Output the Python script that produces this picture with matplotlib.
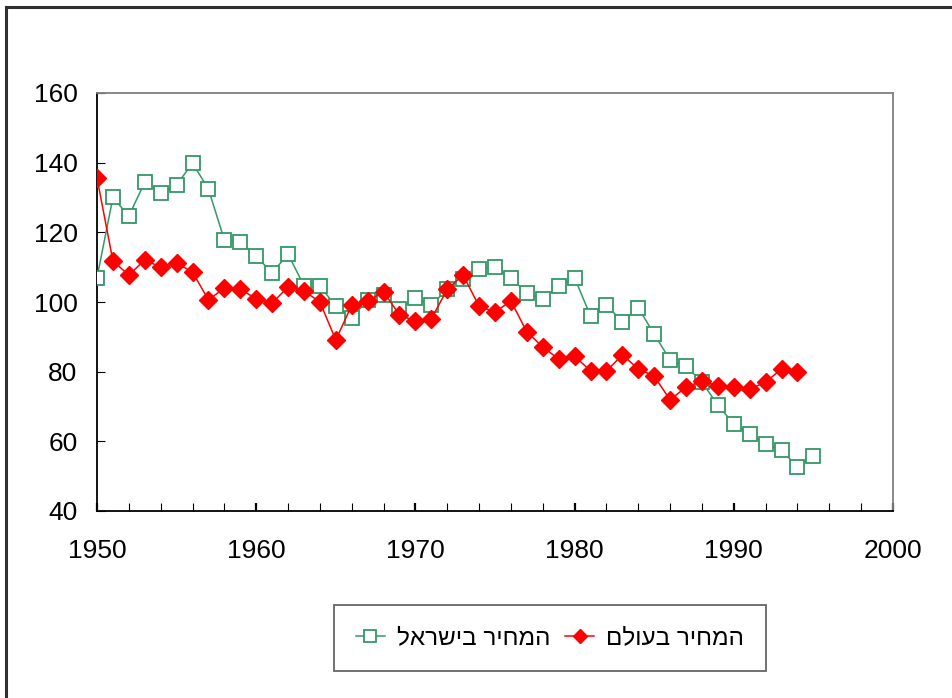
import matplotlib
matplotlib.use("Agg")
import matplotlib.pyplot as plt
from matplotlib.lines import Line2D
from matplotlib.ticker import MultipleLocator

plt.rcParams['font.family'] = ['Liberation Sans', 'DejaVu Sans']

years_israel = list(range(1950, 1996))
price_israel = [107, 130, 124.7, 134.4, 131.3, 133.6, 139.9, 132.4, 117.8, 117.2,
                113.2, 108.3, 113.8, 104.6, 104.6, 98.8, 95.4, 100.6, 102, 98,
                101.1, 99.1, 103.7, 106.6, 109.5, 110, 106.9, 102.6, 100.9, 104.6,
                106.9, 96, 99.1, 94.3, 98.3, 90.8, 83.3, 81.6, 77, 70.4,
                65, 62.1, 59.2, 57.5, 52.6, 55.8]

years_world = list(range(1950, 1995))
price_world = [135.6, 111.8, 107.7, 112.1, 110, 111.2, 108.6, 100.6, 104, 103.7,
               100.9, 99.7, 104.3, 103.2, 100, 89.1, 99.1, 100.3, 102.9, 96.3,
               94.5, 95.1, 103.7, 107.7, 98.8, 97.1, 100.3, 91.4, 87.1, 83.6,
               84.5, 80.2, 80.2, 84.8, 80.8, 78.7, 71.9, 75.6, 77.3, 75.9,
               75.6, 75, 77, 80.8, 79.9]

label_israel = "המחיר בישראל"
label_world = "המחיר בעולם"

def visual(s):
    return s[::-1]

green = "#339966"
red = "#FF0000"

fig = plt.figure(figsize=(9.52, 6.98), dpi=100)
ax = fig.add_axes([97/952, 1-511/698, (893-97)/952, (511-93)/698])

ax.plot(years_israel, price_israel, color=green, lw=1.1, marker='s', markersize=10,
        markerfacecolor='white', markeredgecolor=green, markeredgewidth=1.3, zorder=3)
ax.plot(years_world, price_world, color=red, lw=1.1, marker='D', markersize=9,
        markerfacecolor=red, markeredgecolor=red, zorder=4)

ax.set_xlim(1950, 2000)
ax.set_ylim(40, 160)
ax.xaxis.set_major_locator(MultipleLocator(10))
ax.xaxis.set_minor_locator(MultipleLocator(2))
ax.yaxis.set_major_locator(MultipleLocator(20))
ax.tick_params(axis='both', which='both', direction='in', length=6, labelsize=19)
ax.tick_params(axis='x', which='major', width=1.6, pad=20)
ax.tick_params(axis='x', which='minor', width=0.8)
ax.tick_params(axis='y', pad=14)
for s in ['left', 'bottom']:
    ax.spines[s].set_color('black')
    ax.spines[s].set_linewidth(1.3)
for s in ['top', 'right']:
    ax.spines[s].set_color('#808080')
    ax.spines[s].set_linewidth(1.3)

h_israel = Line2D([], [], color=green, lw=1.1, marker='s', markersize=8,
                  markerfacecolor='white', markeredgecolor=green, markeredgewidth=1.3)
h_world = Line2D([], [], color=red, lw=1.1, marker='D', markersize=7,
                 markerfacecolor=red, markeredgecolor=red)
leg = fig.legend([h_israel, h_world], [visual(label_israel), visual(label_world)],
                 ncol=2, loc='center', bbox_to_anchor=(550/952, 1-638/698),
                 frameon=True, fancybox=False, edgecolor='#404040',
                 handlelength=1.2, columnspacing=0.6, borderpad=0.9, handletextpad=0.5,
                 prop={'family': ['Liberation Sans', 'DejaVu Sans'], 'size': 17.5})
leg.get_frame().set_linewidth(1.3)

fig.add_artist(Line2D([6/952, 6/952], [0, 1-7/698], color='#303030', lw=2.2,
                      transform=fig.transFigure))
fig.add_artist(Line2D([6/952, 1], [1-7/698, 1-7/698], color='#303030', lw=2.2,
                      transform=fig.transFigure))

fig.savefig("out.png", dpi=100)
